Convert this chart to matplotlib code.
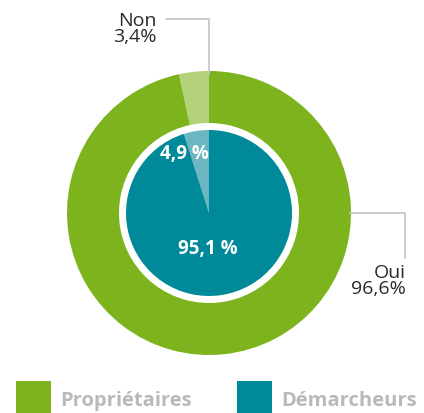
import matplotlib.pyplot as plt
from matplotlib.patches import Rectangle

# outer ring: Propriétaires, inner pie: Démarcheurs
labels = ["Non", "Oui"]
proprietaires = [3.4, 96.6]
demarcheurs = [4.9, 95.1]
legend_labels = ["Propriétaires", "Démarcheurs"]

green = "#7db41e"
green_light = "#b3d27a"
teal = "#008a99"
teal_light = "#6cb6c1"
grey_line = "#c4c4c4"
grey_text = "#b9b9bb"

W, H = 424, 413
fig = plt.figure(figsize=(W / 100, H / 100), dpi=100)
ax = fig.add_axes([0, 0, 1, 1])

cx, cy = 209, H - 213
plt.rcParams["font.family"] = ["Open Sans", "DejaVu Sans"]

ax.pie(proprietaires, colors=[green_light, green], startangle=90, counterclock=True,
       radius=142, center=(cx, cy), wedgeprops=dict(width=52, linewidth=0),
       frame=True)
ax.pie(demarcheurs, colors=[teal_light, teal], startangle=90, counterclock=True,
       radius=83, center=(cx, cy), wedgeprops=dict(linewidth=0), frame=True)
ax.set_xlim(0, W)
ax.set_ylim(0, H)
ax.set_aspect("equal")
ax.axis("off")

# leader lines
ax.plot([209, 209, 166], [H - 74, H - 19, H - 19], color=grey_line, lw=1.2)
ax.plot([350, 405, 405], [H - 213, H - 213, H - 258], color=grey_line, lw=1.2)

ax.text(157, H - 29, f"{labels[0]}\n{proprietaires[0]:.1f}%".replace(".", ","),
        ha="right", va="center", fontsize=14, color="#2a2a2a",
        linespacing=0.85)
ax.text(406, H - 281, f"{labels[1]}\n{proprietaires[1]:.1f}%".replace(".", ","),
        ha="right", va="center", fontsize=14, color="#2a2a2a",
        linespacing=0.85)

ax.text(184, H - 154, f"{demarcheurs[0]:.1f} %".replace(".", ","), ha="center",
        va="center", fontsize=13.5, color="white", fontweight="bold")
ax.text(208, H - 249, f"{demarcheurs[1]:.1f} %".replace(".", ","), ha="center",
        va="center", fontsize=13.5, color="white", fontweight="bold")

# legend
for x0, c, lab in [(16, green, legend_labels[0]), (237, teal, legend_labels[1])]:
    ax.add_patch(Rectangle((x0, 0), 35, H - 381, color=c, lw=0))
    ax.text(x0 + 44, H - 401, lab, ha="left", va="center", fontsize=14.5,
            color=grey_text, fontweight="bold")

fig.savefig("out.png", dpi=100)
